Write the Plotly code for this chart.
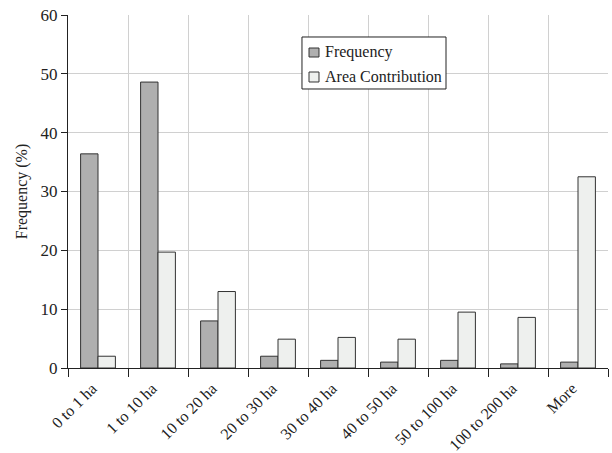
import plotly.graph_objects as go

categories = ["0 to 1 ha", "1 to 10 ha", "10 to 20 ha", "20 to 30 ha", "30 to 40 ha",
              "40 to 50 ha", "50 to 100 ha", "100 to 200 ha", "More"]
frequency = [36.4, 48.6, 8.0, 2.0, 1.3, 1.0, 1.3, 0.7, 1.0]
area_contribution = [2.0, 19.7, 13.0, 4.9, 5.2, 4.9, 9.5, 8.6, 32.5]
y_ticks = [0, 10, 20, 30, 40, 50, 60]
series_names = ["Frequency", "Area Contribution"]
series_colors = ["#afafaf", "#eef0ee"]

font_family = "Liberation Serif"
edge = "#333333"

fig = go.Figure()
for name, vals, col in zip(series_names, [frequency, area_contribution], series_colors):
    fig.add_trace(go.Bar(x=categories, y=vals, name=name, showlegend=False,
                         marker=dict(color=col, line=dict(color=edge, width=1))))

# Legend drawn as box + swatches + text (paper coordinates)
shapes = [dict(type="rect", xref="paper", yref="paper", x0=0.4333, x1=0.70, y0=0.7904, y1=0.9377,
               line=dict(color="#222222", width=1), fillcolor="white", layer="above")]
annotations = []
sw_y = [(0.881, 0.9065), (0.8102, 0.8385)]
txt_y = [0.8938, 0.8244]
for (y0, y1), ty, name, col in zip(sw_y, txt_y, series_names, series_colors):
    shapes.append(dict(type="rect", xref="paper", yref="paper", x0=0.4463, x1=0.4648, y0=y0, y1=y1,
                       line=dict(color=edge, width=1), fillcolor=col, layer="above"))
    annotations.append(dict(xref="paper", yref="paper", x=0.4722, y=ty, xanchor="left", yanchor="middle",
                            text=name, showarrow=False, font=dict(family=font_family, size=16, color="#222222")))

fig.update_layout(
    width=612, height=453,
    margin=dict(l=68, r=4, t=15, b=85, autoexpand=False),
    paper_bgcolor="white", plot_bgcolor="white",
    font=dict(family=font_family, size=16, color="#222222"),
    barmode="group", bargap=0.42, bargroupgap=0,
    showlegend=False,
    shapes=shapes, annotations=annotations,
    xaxis=dict(type="category", tickson="boundaries", tickangle=-45, automargin=False,
               showgrid=True, gridcolor="#d0d0d0", gridwidth=1,
               showline=True, linecolor="#222222", linewidth=1,
               ticks="outside", ticklen=8, tickcolor="#222222",
               ticklabelshift=-6, ticklabelstandoff=4,
               tickfont=dict(family=font_family, size=16)),
    yaxis=dict(range=[0, 60], tickvals=y_ticks, automargin=False,
               showgrid=True, gridcolor="#d0d0d0", gridwidth=1,
               showline=True, linecolor="#222222", linewidth=1,
               ticks="outside", ticklen=6, tickcolor="#222222", zeroline=False,
               title=dict(text="Frequency (%)", font=dict(family=font_family, size=16), standoff=8),
               tickfont=dict(family=font_family, size=17)),
)

fig.write_html("out.html", config={"displayModeBar": False},
               post_script="document.body.style.margin='0';")
